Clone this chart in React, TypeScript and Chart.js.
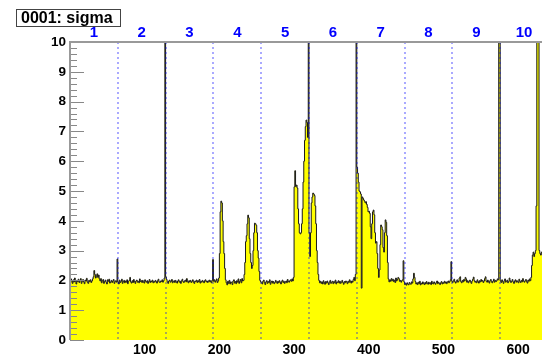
import React, { useEffect, useRef } from "react";
import { Chart, registerables } from "chart.js";

Chart.register(...registerables);

// ---- data: one value per channel, 64 channels per chip ----
const chip1 = [
  1.92, 2.05, 1.98, 1.9, 2.02, 1.95, 2.08, 1.97,
  1.88, 2.0, 1.96, 2.04, 1.93, 1.99, 2.06, 1.9,
  1.97, 2.03, 1.95, 1.89, 2.01, 1.98, 2.07, 1.94,
  1.9, 2.0, 1.96, 2.02, 1.93, 1.98, 2.05, 2.12,
  2.33, 2.2, 2.08, 2.15, 2.22, 2.1, 2.18, 2.05,
  1.98, 2.06, 1.92, 1.99, 2.03, 1.9, 1.96, 2.01,
  1.94, 1.88, 2.02, 1.97, 2.04, 1.91, 1.95, 2.0,
  1.93, 1.98, 2.03, 1.9, 1.96, 1.99, 1.94, 2.72,
];
const chip2 = [
  1.95, 1.88, 2.01, 1.93, 1.97, 2.04, 1.9, 1.96,
  2.0, 1.92, 1.98, 1.94, 2.02, 1.89, 1.97, 2.0,
  2.1, 1.95, 1.91, 1.99, 1.93, 2.03, 1.96, 1.9,
  1.98, 2.01, 1.94, 1.97, 1.92, 2.05, 1.96, 1.99,
  1.93, 2.0, 1.95, 1.91, 2.02, 1.97, 1.94, 1.99,
  1.9, 1.96, 2.03, 1.93, 1.98, 1.95, 2.01, 1.92,
  1.97, 1.94, 2.0, 1.96, 1.91, 1.99, 2.04, 1.95,
  1.93, 1.98, 1.96, 2.02, 1.94, 1.99, 2.08, 11.0,
];
const chip3 = [
  2.12, 2.03, 1.95, 1.9, 1.98, 2.01, 1.94, 1.97,
  2.03, 1.92, 1.96, 1.99, 1.93, 2.0, 1.95, 1.91,
  1.98, 2.02, 1.94, 1.97, 1.9, 1.99, 2.04, 1.96,
  1.93, 1.98, 2.01, 1.95, 2.06, 1.97, 1.92, 1.99,
  1.95, 2.0, 1.93, 1.97, 2.02, 1.94, 1.9, 1.98,
  1.96, 2.01, 1.93, 1.99, 1.95, 2.03, 1.91, 1.97,
  1.94, 2.0, 1.96, 1.92, 1.99, 2.02, 1.95, 1.98,
  1.93, 1.97, 2.01, 1.95, 1.99, 1.92, 2.0, 2.7,
];
const chip4 = [
  1.97, 2.02, 1.94, 1.99, 2.05, 1.93, 1.98, 2.08,
  2.9, 4.3, 4.66, 4.6, 4.0, 3.3, 2.9, 2.4,
  2.02, 1.92, 1.85, 1.97, 1.9, 2.0, 1.88, 1.95,
  1.93, 1.86, 1.98, 2.02, 1.91, 1.96, 1.89, 1.99,
  1.94, 2.05, 1.9, 1.97, 2.03, 1.92, 2.06, 1.98,
  2.0, 2.2, 2.6, 3.3, 3.5, 3.9, 4.19, 4.1,
  3.4, 2.9, 2.6, 2.4, 2.5, 3.0, 3.6, 3.92,
  3.9, 3.85, 3.6, 3.0, 2.75, 2.3, 2.0, 1.95,
];
const chip5 = [
  1.94, 1.88, 1.97, 2.01, 1.92, 1.86, 1.95, 1.99,
  1.9, 1.96, 1.93, 2.02, 1.87, 1.94, 1.98, 1.91,
  1.96, 1.89, 1.93, 2.0, 1.95, 1.9, 1.97, 1.92,
  1.99, 1.94, 1.88, 1.96, 2.01, 1.93, 1.97, 1.9,
  1.95, 1.98, 1.92, 2.03, 1.96, 1.94, 1.99, 2.02,
  1.97, 2.05, 1.98, 2.1, 5.14, 5.68, 5.15, 5.2,
  5.1, 4.4, 3.9, 3.6, 3.56, 3.6, 3.9, 4.4,
  5.3, 6.0, 6.7, 7.16, 7.38, 7.3, 6.8, 11.0,
];
const chip6 = [
  3.6, 2.8, 3.6, 4.6, 4.8, 4.93, 4.9, 4.85,
  4.5, 3.9, 3.0, 2.6, 2.2, 2.0, 1.92, 1.97,
  1.9, 1.95, 1.88, 1.99, 1.93, 1.87, 1.96, 1.91,
  1.98, 1.92, 1.86, 1.95, 2.0, 1.9, 1.94, 1.97,
  1.89, 1.96, 1.92, 2.01, 1.88, 1.95, 1.93, 1.99,
  1.91, 1.97, 1.9, 1.94, 2.0, 1.93, 1.87, 1.96,
  1.92, 1.98, 1.95, 1.89, 1.97, 1.93, 2.02, 1.96,
  1.91, 1.98, 1.94, 2.03, 2.1, 1.99, 2.2, 11.0,
];
const chip7 = [
  5.8, 5.6, 5.3, 5.0, 4.97, 4.9, 1.74, 4.8,
  4.75, 4.7, 4.66, 4.6, 4.64, 4.55, 4.45, 4.3,
  4.32, 4.25, 3.8, 3.4, 3.9, 4.3, 4.36, 4.2,
  3.6, 3.25, 3.3, 2.9, 2.4, 2.1, 2.35, 3.2,
  3.86, 3.8, 3.7, 3.1, 2.95, 3.6, 4.03, 3.95,
  3.5, 2.6, 2.05, 1.95, 2.02, 1.97, 2.06, 1.99,
  2.04, 1.96, 2.01, 1.93, 2.08, 1.98, 2.03, 2.1,
  2.06, 1.97, 2.0, 1.94, 1.99, 2.02, 2.66, 1.95,
];
const chip8 = [
  1.86, 1.9, 1.84, 1.92, 1.88, 1.85, 1.93, 1.89,
  1.87, 1.95, 1.91, 2.05, 2.24, 2.1, 1.96, 1.88,
  1.92, 1.86, 1.94, 1.89, 1.97, 1.85, 1.91, 1.88,
  1.95, 1.9, 1.86, 1.93, 1.88, 1.96, 1.91, 1.87,
  1.94, 1.89, 1.92, 1.86, 1.97, 1.9, 1.88, 1.95,
  1.91, 1.87, 1.93, 1.98, 1.89, 1.94, 1.9, 1.86,
  1.92, 1.96, 1.88, 1.93, 1.9, 1.97, 1.91, 1.95,
  1.89, 1.94, 1.98, 1.92, 1.96, 2.02, 2.63, 1.97,
];
const chip9 = [
  1.93, 1.99, 2.04, 1.95, 1.91, 1.98, 2.02, 1.94,
  1.97, 2.08, 2.12, 1.96, 1.92, 2.0, 1.95, 2.03,
  1.98, 2.1, 2.05, 1.94, 1.99, 1.92, 1.97, 2.01,
  1.95, 1.9, 1.98, 2.04, 2.11, 1.99, 1.94, 1.97,
  1.92, 2.02, 1.96, 1.91, 1.99, 1.95, 2.03, 1.97,
  2.0, 1.93, 1.98, 2.06, 2.12, 1.97, 1.94, 2.01,
  1.96, 1.91, 1.99, 2.03, 1.95, 1.92, 1.98, 2.04,
  1.94, 2.0, 1.96, 1.99, 2.05, 2.02, 11.0, 11.0,
];
const chip10 = [
  1.98, 1.93, 2.02, 1.96, 1.9, 1.99, 2.05, 1.94,
  1.97, 2.01, 1.92, 1.96, 2.08, 1.99, 1.93, 1.97,
  2.03, 1.95, 1.9, 1.98, 2.02, 1.94, 1.99, 1.96,
  1.92, 2.04, 1.97, 1.93, 2.0, 1.95, 2.06, 1.98,
  1.94, 1.99, 2.03, 1.96, 1.91, 2.01, 1.97, 2.05,
  1.99, 2.1, 2.5, 2.85, 2.95, 2.8, 2.9, 3.0,
  4.5, 11.0, 11.0, 11.0, 3.0, 2.9, 2.85, 2.95,
  2.9, 2.8, 2.95, 2.85, 2.9, 2.8, 2.85, 2.9,
];

const chips = [chip1, chip2, chip3, chip4, chip5, chip6, chip7, chip8, chip9, chip10];
const chipLabels = ["1", "2", "3", "4", "5", "6", "7", "8", "9", "10"];
const chipWidth = 64;
const xTickValues = [100, 200, 300, 400, 500, 600];
const yTickValues = [0, 1, 2, 3, 4, 5, 6, 7, 8, 9, 10];
const titleText = "0001: sigma";

const FONT = "'Liberation Sans', Arial, sans-serif";

export default function App() {
  const ref = useRef<HTMLCanvasElement | null>(null);

  useEffect(() => {
    if (!ref.current) return;
    const values: number[] = ([] as number[]).concat(...chips);
    const nBins = values.length;
    const points = values.map((v, i) => ({ x: i, y: v }));
    points.push({ x: nBins, y: values[nBins - 1] });
    const boundaries = chips.slice(1).map((_, i) => (i + 1) * chipWidth);
    const centers = chips.map((_, i) => i * chipWidth + chipWidth / 2);

    const overlay = {
      id: "rootOverlay",
      afterDatasetsDraw(chart: any) {
        const ctx = chart.ctx as CanvasRenderingContext2D;
        const xs = chart.scales.x;
        const ys = chart.scales.y;
        const a = chart.chartArea;
        ctx.save();
        // chip boundaries
        ctx.strokeStyle = "rgba(0,0,255,0.42)";
        ctx.lineWidth = 1.6;
        ctx.setLineDash([2, 3]);
        boundaries.forEach((b) => {
          const px = Math.round(xs.getPixelForValue(b));
          ctx.beginPath();
          ctx.moveTo(px, a.top);
          ctx.lineTo(px, a.bottom);
          ctx.stroke();
        });
        ctx.setLineDash([]);
        // y ticks (inside)
        ctx.strokeStyle = "#888";
        ctx.lineWidth = 1;
        for (let v = 0; v <= 50; v++) {
          const val = v * 0.2;
          const py = Math.round(ys.getPixelForValue(val)) + 0.5;
          const len = v % 5 === 0 ? 14 : 7;
          ctx.beginPath();
          ctx.moveTo(a.left, py);
          ctx.lineTo(a.left + len, py);
          ctx.stroke();
        }
        // frame
        ctx.strokeStyle = "#999";
        ctx.lineWidth = 2;
        ctx.beginPath();
        ctx.moveTo(a.left, a.bottom);
        ctx.lineTo(a.left, a.top);
        ctx.lineTo(a.right, a.top);
        ctx.lineTo(a.right, a.bottom);
        ctx.stroke();
        ctx.restore();
      },
      afterDraw(chart: any) {
        const ctx = chart.ctx as CanvasRenderingContext2D;
        ctx.save();
        ctx.fillStyle = "#fff";
        ctx.fillRect(16, 9, 104, 17);
        ctx.strokeStyle = "#444";
        ctx.lineWidth = 1;
        ctx.strokeRect(16.5, 9.5, 104, 17);
        ctx.fillStyle = "#000";
        ctx.font = `bold 16px ${FONT}`;
        ctx.textBaseline = "middle";
        ctx.textAlign = "left";
        ctx.fillText(titleText, 21, 18.5);
        ctx.restore();
      },
    };

    const chart = new Chart(ref.current, {
      type: "line",
      data: {
        datasets: [
          {
            data: points,
            stepped: true,
            fill: "origin",
            backgroundColor: "#ffff00",
            borderColor: "#1a1a1a",
            borderWidth: 1,
            pointRadius: 0,
            tension: 0,
          },
        ],
      },
      options: {
        animation: false,
        responsive: false,
        devicePixelRatio: 1,
        layout: { padding: { left: 0, right: 12, top: 0, bottom: 0 } },
        plugins: { legend: { display: false }, tooltip: { enabled: false }, title: { display: false } },
        scales: {
          x: {
            type: "linear",
            position: "bottom",
            min: 0,
            max: nBins,
            afterBuildTicks: (s: any) => {
              s.ticks = xTickValues.map((v) => ({ value: v }));
            },
            afterFit: (s: any) => {
              s.height = 18;
            },
            ticks: {
              autoSkip: false,
              maxRotation: 0,
              padding: 2,
              color: "#000",
              font: { family: FONT, weight: "bold", size: 14 },
            },
            grid: { display: false, drawTicks: false },
            border: { display: false },
          },
          x2: {
            type: "linear",
            position: "top",
            min: 0,
            max: nBins,
            afterBuildTicks: (s: any) => {
              s.ticks = centers.map((v) => ({ value: v }));
            },
            afterFit: (s: any) => {
              s.height = 42;
            },
            ticks: {
              autoSkip: false,
              maxRotation: 0,
              padding: 0,
              color: "#0000ff",
              font: { family: FONT, weight: "bold", size: 15 },
              callback: (_v: any, i: number) => chipLabels[i],
            },
            grid: { display: false, drawTicks: false },
            border: { display: false },
          },
          y: {
            type: "linear",
            min: 0,
            max: 10,
            afterBuildTicks: (s: any) => {
              s.ticks = yTickValues.map((v) => ({ value: v }));
            },
            afterFit: (s: any) => {
              s.width = 70;
            },
            ticks: {
              padding: 4,
              color: "#000",
              font: { family: FONT, weight: "bold", size: 13.5 },
            },
            grid: { display: false, drawTicks: false },
            border: { display: false },
          },
        },
      } as any,
      plugins: [overlay],
    });
    return () => chart.destroy();
  }, []);

  return (
    <div style={{ position: "fixed", left: 0, top: 0, width: 542, height: 358, overflow: "hidden", background: "#fff" }}>
      <canvas ref={ref} width={560} height={358} style={{ width: 560, height: 358, display: "block" }} />
    </div>
  );
}
